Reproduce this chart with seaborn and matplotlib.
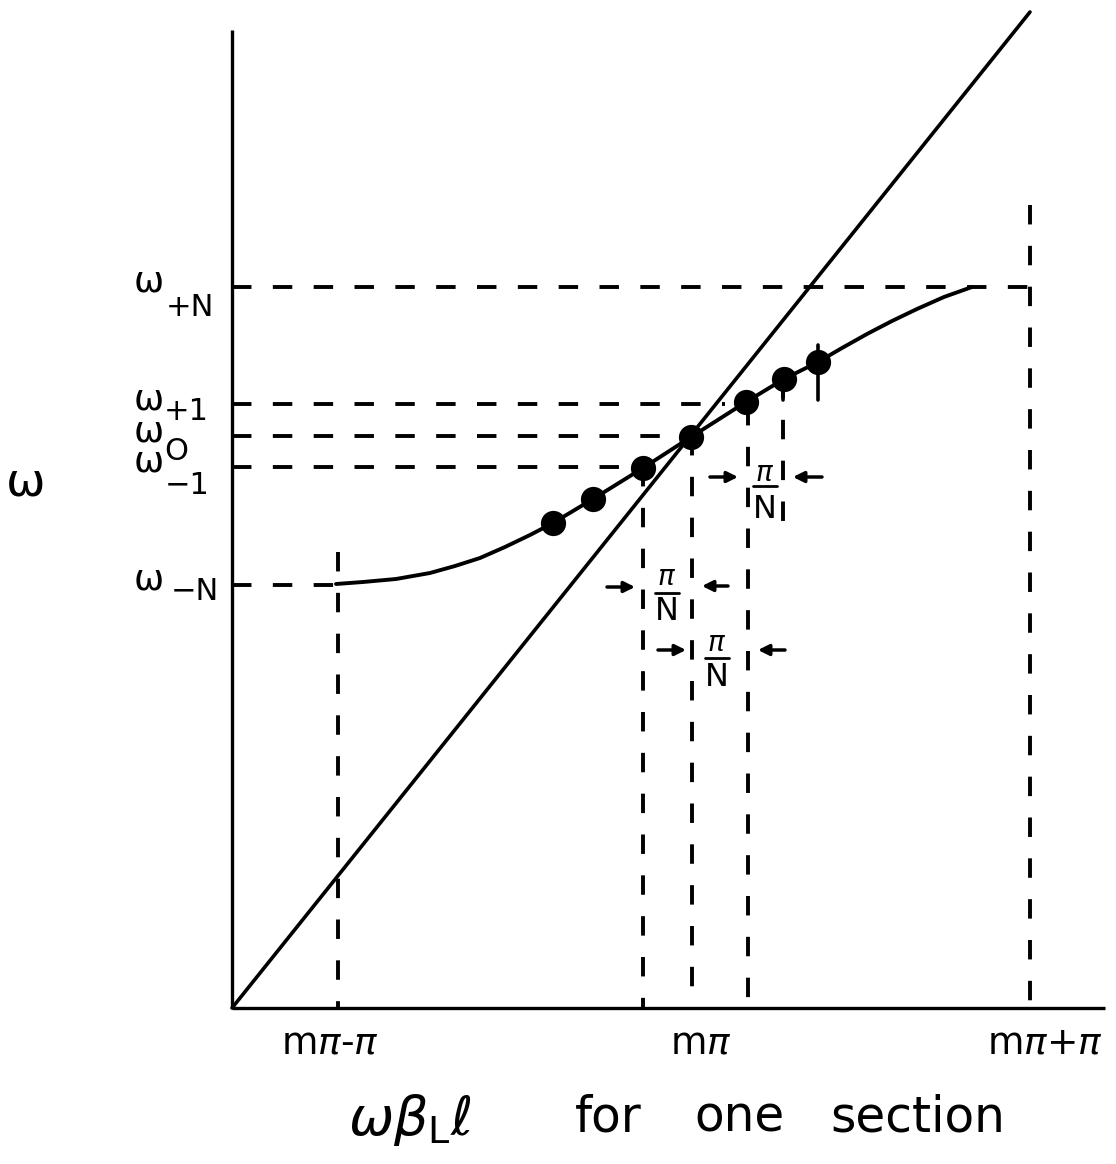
import numpy as np
import pandas as pd
import matplotlib
matplotlib.use("Agg")
import matplotlib.pyplot as plt
import seaborn as sns

# --- data (phase along x, frequency along y, arbitrary drawing units) ---
# dispersion curve of one section, sampled along its length
curve_x = [1.04, 1.31, 1.64, 1.98, 2.23, 2.48, 2.73, 2.98, 3.21, 3.61, 4.11, 4.59,
           5.14, 5.52, 5.86, 6.10, 6.35, 6.60, 6.85, 7.12, 7.40]
curve_y = [4.24, 4.26, 4.29, 4.35, 4.42, 4.50, 4.61, 4.73, 4.85, 5.09, 5.40, 5.71,
           6.06, 6.29, 6.46, 6.60, 6.74, 6.87, 6.99, 7.11, 7.21]

# resonant modes marked on the curve
mode_x = [3.21, 3.61, 4.11, 4.59, 5.14, 5.52, 5.86]
mode_y = [4.85, 5.09, 5.40, 5.71, 6.06, 6.29, 6.46]

# light line through the origin
light_x = [0.0, 7.98]
light_y = [0.0, 9.96]

# frequency levels and their labels
level_names = ["+N", "+1", "O", "−1", "−N"]
level_y = [7.21, 6.04, 5.72, 5.41, 4.23]
level_end_x = [7.98, 4.93, 4.58, 4.11, 1.06]

# phase markers on the x axis
tick_x = [1.06, 4.60, 7.98]
tick_labels = ["m$\\pi$-$\\pi$", "m$\\pi$", "m$\\pi$+$\\pi$"]

# vertical guide lines: x, bottom, top
guide_x = [1.06, 4.11, 4.60, 5.16, 5.51, 7.98]
guide_lo = [0.0, 0.0, 0.0, 0.0, 4.78, 0.0]
guide_hi = [4.56, 5.41, 5.72, 6.02, 6.29, 8.03]

sns.set_theme(style="white")
plt.rcParams["font.family"] = ["DejaVu Sans"]
plt.rcParams["mathtext.fontset"] = "dejavusans"
plt.rcParams["text.color"] = "black"

fig = plt.figure(figsize=(11.16, 11.64), dpi=100)
ax = fig.add_axes([0, 0, 1, 1])
ax.set_xlim(-2.32, 8.84)
ax.set_ylim(-1.56, 10.08)
ax.axis("off")

K = "black"
dash = (0, (5.0, 5.5))
LW_D = 2.8

# axes
ax.plot([0, 0], [0, 9.78], color=K, lw=2.4, solid_capstyle="butt")
ax.plot([0, 8.73], [0, 0], color=K, lw=2.4, solid_capstyle="butt")

# light line
sns.lineplot(x=light_x, y=light_y, color=K, lw=2.6, ax=ax, sort=False)

# dispersion curve
curve = pd.DataFrame({"phase": curve_x, "omega": curve_y})
sns.lineplot(data=curve, x="phase", y="omega", color=K, lw=2.8, ax=ax, sort=False)

# modes
modes = pd.DataFrame({"phase": mode_x, "omega": mode_y})
sns.scatterplot(data=modes, x="phase", y="omega", color=K, s=330, ax=ax,
                edgecolor=K, linewidth=0, zorder=5)

# horizontal frequency guides
for yv, xe in zip(level_y, level_end_x):
    ax.plot([0, xe], [yv, yv], color=K, lw=LW_D, linestyle=dash)

# vertical guides
for xv, lo, hi in zip(guide_x, guide_lo, guide_hi):
    ax.plot([xv, xv], [hi, lo], color=K, lw=LW_D, linestyle=dash)

# short solid stems through some modes
ax.plot([4.11, 4.11], [5.41, 5.30], color=K, lw=2.6)
ax.plot([5.51, 5.51], [6.29, 6.08], color=K, lw=2.6)
ax.plot([5.86, 5.86], [6.63, 6.08], color=K, lw=2.6)

ax.set_xlabel("")
ax.set_ylabel("")

# frequency labels on the left: omega with its index set lower right
sub_pos = [(-0.42, 7.00), (-0.46, 5.97), (-0.56, 5.57), (-0.45, 5.22), (-0.37, 4.16)]
for name, yv, (sx, sy) in zip(level_names, level_y, sub_pos):
    ax.text(-0.83, yv + 0.05, "ω", fontsize=26, ha="center", va="center")
    ax.text(sx, sy, name, fontsize=22, ha="center", va="center")

ax.text(-2.06, 5.25, "ω", fontsize=34, ha="center", va="center")

# x tick labels
for xv, lab in zip([0.98, 4.69, 8.13], tick_labels):
    ax.text(xv, -0.36, lab, fontsize=27, ha="center", va="center")

# x axis title
ax.text(1.16, -1.12, r"$\omega\beta_{\mathrm{L}}\ell$", fontsize=39, ha="left", va="center")
for wx, word in zip([3.43, 4.62, 5.98], ["for", "one", "section"]):
    ax.text(wx, -1.10, word, fontsize=35, ha="left", va="center")

# pi/N spacing markers
fracs = [(5.33, 5.35, 5.22, 4.98), (4.35, 4.31, 4.15, 3.96), (4.85, 3.65, 3.50, 3.31)]
for fx, py, by, ny in fracs:
    ax.text(fx, py, r"$\pi$", fontsize=20, ha="center", va="center")
    ax.plot([fx - 0.12, fx + 0.12], [by, by], color=K, lw=2.0)
    ax.text(fx, ny, "N", fontsize=23, ha="center", va="center")

arrows = [((4.78, 5.31), (5.06, 5.31)), ((5.90, 5.31), (5.61, 5.31)),
          ((3.75, 4.21), (4.03, 4.21)), ((4.96, 4.22), (4.70, 4.22)),
          ((4.26, 3.58), (4.54, 3.58)), ((5.53, 3.58), (5.26, 3.58))]
for tail, head in arrows:
    ax.annotate("", xy=head, xytext=tail,
                arrowprops=dict(arrowstyle="-|>", color=K, lw=2.5, mutation_scale=16,
                                shrinkA=0, shrinkB=0))

fig.savefig("out.png", dpi=100, facecolor="white")
